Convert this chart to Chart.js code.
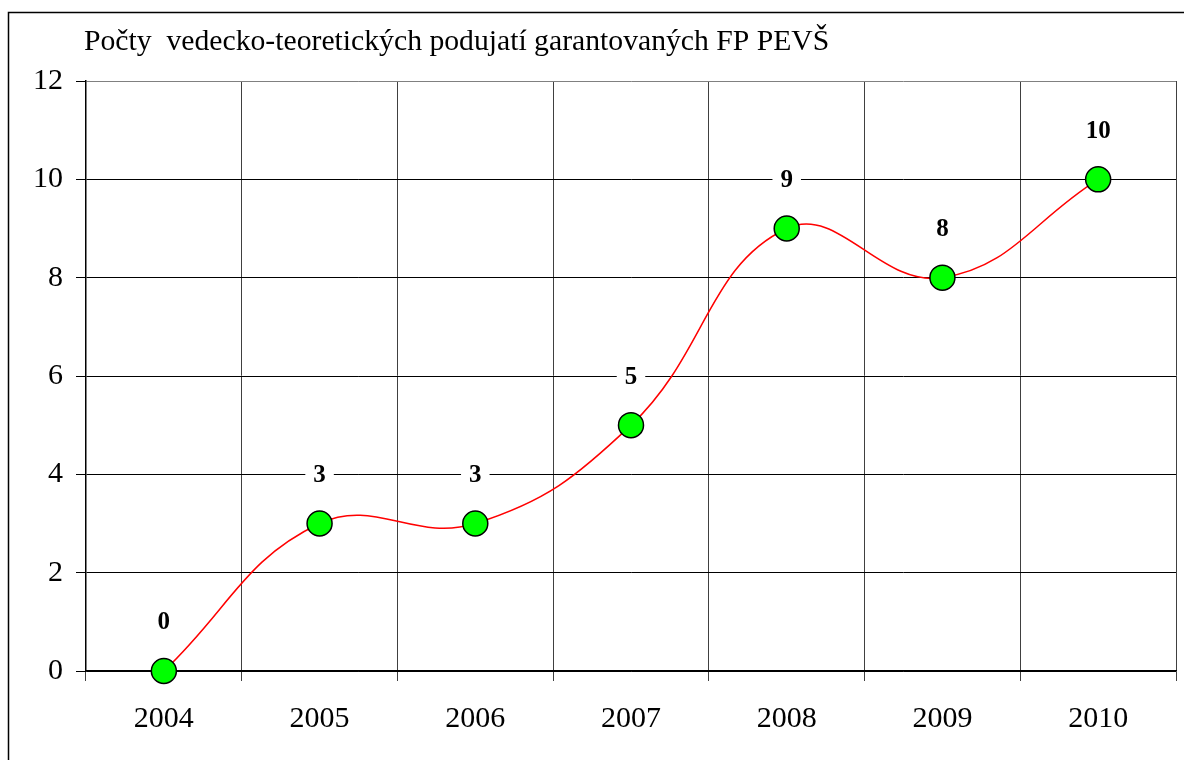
<!DOCTYPE html>
<html>
<head>
<meta charset="utf-8">
<script src="https://cdn.jsdelivr.net/npm/chart.js"></script>
<style>
    html, body { margin: 0; padding: 0; background: #fff; overflow: hidden; }
    canvas { display: block; }
</style>
</head>
<body>
<canvas id="chart" width="1184" height="760"></canvas>
<script>
// Chart data
const chartTitle = 'Počty  vedecko-teoretických podujatí garantovaných FP PEVŠ';
const years = ['2004', '2005', '2006', '2007', '2008', '2009', '2010'];
const eventCounts = [0, 3, 3, 5, 9, 8, 10];
const yTicks = [0, 2, 4, 6, 8, 10, 12];

const serif = '"Liberation Serif", "Times New Roman", serif';

// Outer frame and title
const framePlugin = {
    id: 'frame',
    beforeDraw(chart) {
        const ctx = chart.ctx;
        ctx.save();
        ctx.fillStyle = '#fff';
        ctx.fillRect(0, 0, chart.width, chart.height);
        ctx.strokeStyle = '#000';
        ctx.lineWidth = 1.5;
        ctx.strokeRect(8.5, 12.5, chart.width + 50, chart.height + 50);
        ctx.fillStyle = '#000';
        ctx.font = '29.7px ' + serif;
        ctx.textBaseline = 'middle';
        ctx.textAlign = 'left';
        ctx.fillText(chartTitle, 84, 42);
        ctx.restore();
    }
};

// Value labels with white boxes above the points
const labelPlugin = {
    id: 'valueLabels',
    afterDatasetsDraw(chart) {
        const ctx = chart.ctx;
        const meta = chart.getDatasetMeta(0);
        ctx.save();
        ctx.font = 'bold 25px ' + serif;
        ctx.textAlign = 'center';
        ctx.textBaseline = 'middle';
        meta.data.forEach((pt, i) => {
            const txt = String(eventCounts[i]);
            const w = ctx.measureText(txt).width + 16;
            const y = pt.y - 48;
            ctx.fillStyle = '#fff';
            ctx.fillRect(pt.x - w / 2, y - 13, w, 26);
            ctx.fillStyle = '#000';
            ctx.fillText(txt, pt.x, y);
        });
        ctx.restore();
    }
};

new Chart(document.getElementById('chart'), {
    type: 'line',
    data: {
        labels: years,
        datasets: [{
            data: eventCounts,
            borderColor: '#ff0000',
            borderWidth: 1.5,
            tension: 0.42,
            pointRadius: 12.5,
            pointHoverRadius: 12.5,
            pointBackgroundColor: '#00ff00',
            pointBorderColor: '#000',
            pointBorderWidth: 1.5,
            clip: false
        }]
    },
    options: {
        responsive: false,
        animation: false,
        events: [],
        layout: { autoPadding: false, padding: { top: 81, right: 8, left: 0, bottom: 0 } },
        plugins: {
            legend: { display: false },
            tooltip: { enabled: false }
        },
        scales: {
            x: {
                offset: true,
                grid: {
                    offset: true,
                    color: ctx => ctx.index === years.length ? '#808080' : '#404040',
                    lineWidth: 1,
                    tickLength: 10,
                    tickColor: '#404040'
                },
                border: { color: '#000', width: 1.5 },
                ticks: {
                    color: '#000',
                    font: { family: serif, size: 30 },
                    padding: 20
                },
                afterFit: s => {
                    s.height = 89;
                    s.paddingLeft = 0;
                    s.paddingRight = 0;
                }
            },
            y: {
                min: 0,
                max: 12,
                afterBuildTicks: s => { s.ticks = yTicks.map(v => ({ value: v })); },
                grid: {
                    color: ctx => ctx.tick && ctx.tick.value === 12 ? '#808080' : '#000',
                    lineWidth: 1,
                    tickLength: 10,
                    tickColor: '#000'
                },
                border: { color: '#000', width: 1.5 },
                ticks: {
                    color: '#000',
                    font: { family: serif, size: 30 },
                    padding: 13
                },
                afterFit: s => {
                    s.width = 86;
                    s.paddingTop = 0;
                    s.paddingBottom = 0;
                }
            }
        }
    },
    plugins: [framePlugin, labelPlugin]
});
</script>
</body>
</html>
